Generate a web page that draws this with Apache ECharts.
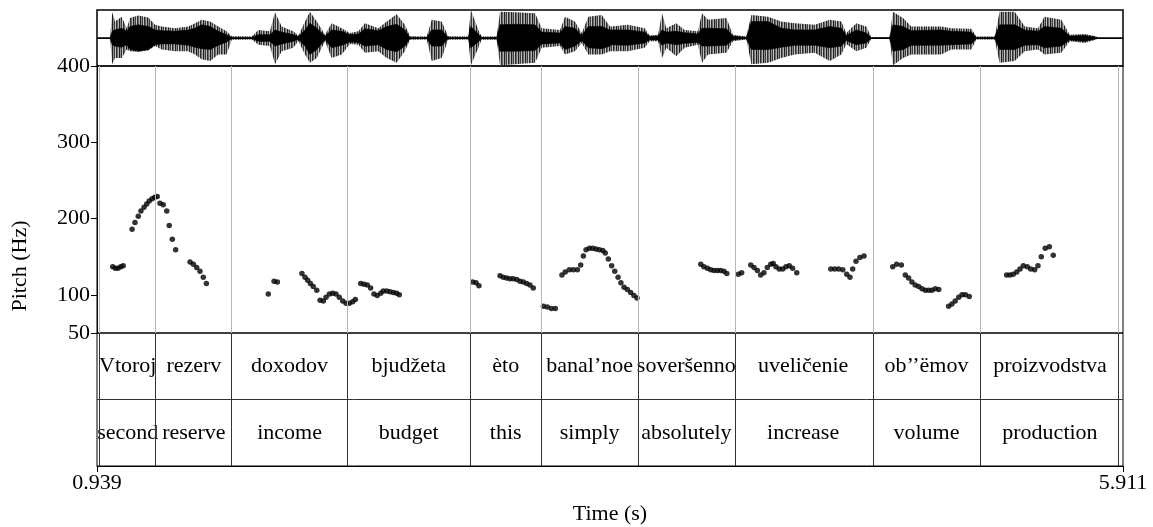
<!DOCTYPE html>
<html>
<head>
<meta charset="utf-8">
<script src="https://cdn.jsdelivr.net/npm/echarts@6/dist/echarts.min.js"></script>
<style>
  html, body { margin: 0; padding: 0; background: #fff; }
  #chart { width: 1153px; height: 527px; }
</style>
</head>
<body>
<div id="chart"></div>
<script>
// time range of the picture (s)
const tMin = 0.939;
const tMax = 5.911;
const timeTicks = [0.939, 5.911];
const pitchTicks = [50, 100, 200, 300, 400];

// waveform envelope (fraction of full scale)
const waveTime = [0.939,1.002,1.013,1.026,1.059,1.083,1.099,1.139,1.188,1.220,
  1.253,1.317,1.381,1.414,1.446,1.487,1.527,1.567,1.592,1.689,
  1.721,1.777,1.802,1.834,1.890,1.915,1.947,1.971,2.004,2.044,
  2.076,2.125,2.165,2.205,2.238,2.302,2.343,2.391,2.431,2.456,
  2.537,2.561,2.609,2.641,2.738,2.751,2.787,2.803,2.876,2.892,
  2.965,3.062,3.094,3.183,3.207,3.255,3.288,3.320,3.385,3.425,
  3.431,3.512,3.593,3.617,3.658,3.677,3.698,3.746,3.787,3.851,
  3.871,3.900,3.989,4.021,4.086,4.110,4.191,4.255,4.320,4.417,
  4.490,4.546,4.570,4.619,4.667,4.691,4.780,4.796,4.845,4.885,
  5.030,5.079,5.176,5.200,5.289,5.313,5.386,5.435,5.499,5.531,
  5.612,5.653,5.725,5.774,5.790,5.903,5.911];
const wavePeakUp = [0.02,0.02,0.92,0.59,0.76,0.35,0.71,0.80,0.73,0.47,
  0.41,0.35,0.41,0.53,0.65,0.59,0.41,0.24,0.06,0.05,
  0.29,0.24,0.92,0.41,0.24,0.09,0.59,0.94,0.59,0.12,
  0.53,0.35,0.18,0.24,0.53,0.35,0.59,0.85,0.47,0.06,
  0.05,0.65,0.59,0.06,0.05,1.00,0.29,0.05,0.05,0.94,
  0.92,0.88,0.35,0.29,0.76,0.59,0.18,0.76,0.82,0.41,
  0.41,0.47,0.35,0.09,0.12,0.88,0.35,0.53,0.29,0.24,
  0.88,0.65,0.71,0.12,0.05,0.82,0.76,0.59,0.53,0.47,
  0.65,0.59,0.18,0.53,0.41,0.04,0.04,0.94,0.71,0.41,
  0.41,0.35,0.33,0.05,0.05,0.94,0.94,0.41,0.35,0.76,
  0.65,0.12,0.14,0.07,0.02,0.02,0.02];
const wavePeakDown = [-0.02,-0.02,-0.94,-0.71,-0.71,-0.41,-0.47,-0.49,-0.45,-0.29,
  -0.41,-0.47,-0.47,-0.59,-0.76,-0.82,-0.59,-0.59,-0.06,-0.05,
  -0.24,-0.29,-0.94,-0.47,-0.35,-0.12,-0.59,-0.88,-0.71,-0.12,
  -0.71,-0.59,-0.21,-0.24,-0.53,-0.47,-0.71,-0.88,-0.47,-0.06,
  -0.05,-0.82,-0.71,-0.06,-0.05,-0.97,-0.35,-0.06,-0.06,-0.97,
  -0.94,-0.88,-0.35,-0.29,-0.59,-0.47,-0.18,-0.59,-0.59,-0.47,
  -0.47,-0.47,-0.35,-0.12,-0.12,-0.71,-0.35,-0.65,-0.35,-0.24,
  -0.88,-0.59,-0.53,-0.12,-0.05,-0.94,-0.88,-0.71,-0.59,-0.53,
  -0.82,-0.59,-0.21,-0.47,-0.35,-0.04,-0.04,-0.97,-0.71,-0.59,
  -0.59,-0.41,-0.41,-0.05,-0.05,-0.88,-0.82,-0.47,-0.41,-0.59,
  -0.53,-0.12,-0.18,-0.07,-0.02,-0.02,-0.02];
const waveCoreUp = [0.01,0.01,0.24,0.29,0.35,0.24,0.41,0.47,0.41,0.29,
  0.26,0.24,0.29,0.35,0.47,0.41,0.24,0.12,0.02,0.02,
  0.12,0.12,0.29,0.21,0.12,0.05,0.29,0.53,0.35,0.06,
  0.29,0.24,0.12,0.14,0.33,0.26,0.41,0.49,0.29,0.02,
  0.02,0.29,0.29,0.02,0.02,0.41,0.14,0.02,0.02,0.47,
  0.49,0.47,0.21,0.18,0.41,0.35,0.09,0.41,0.41,0.29,
  0.29,0.29,0.21,0.06,0.07,0.29,0.21,0.24,0.19,0.14,
  0.35,0.35,0.33,0.06,0.02,0.59,0.59,0.35,0.29,0.29,
  0.41,0.35,0.09,0.29,0.18,0.01,0.01,0.47,0.41,0.26,
  0.29,0.24,0.21,0.02,0.02,0.47,0.47,0.29,0.24,0.41,
  0.35,0.07,0.09,0.04,0.01,0.01,0.01];
const waveCoreDown = [-0.01,-0.01,-0.24,-0.29,-0.33,-0.24,-0.41,-0.47,-0.41,-0.24,
  -0.21,-0.21,-0.26,-0.33,-0.38,-0.41,-0.26,-0.14,-0.02,-0.02,
  -0.12,-0.12,-0.29,-0.21,-0.12,-0.05,-0.29,-0.59,-0.41,-0.06,
  -0.35,-0.26,-0.14,-0.16,-0.29,-0.24,-0.41,-0.49,-0.29,-0.02,
  -0.02,-0.29,-0.29,-0.02,-0.02,-0.35,-0.14,-0.02,-0.02,-0.47,
  -0.47,-0.45,-0.21,-0.18,-0.41,-0.29,-0.09,-0.35,-0.38,-0.29,
  -0.24,-0.26,-0.18,-0.06,-0.07,-0.26,-0.18,-0.24,-0.19,-0.16,
  -0.29,-0.29,-0.26,-0.06,-0.02,-0.41,-0.41,-0.33,-0.26,-0.26,
  -0.35,-0.29,-0.09,-0.24,-0.18,-0.01,-0.01,-0.47,-0.41,-0.26,
  -0.26,-0.24,-0.21,-0.02,-0.02,-0.41,-0.41,-0.26,-0.24,-0.35,
  -0.29,-0.07,-0.12,-0.04,-0.01,-0.01,-0.01];

// pitch track (s, Hz)
const pitchTime = [1.015,1.028,1.041,1.054,1.066,
  1.109,1.123,1.139,1.152,1.167,1.180,1.192,1.206,1.219,1.231,1.244,1.260,1.277,1.289,1.304,1.320,
  1.390,1.406,1.422,1.438,1.454,1.469,
  1.769,1.797,1.813,
  1.932,1.947,1.960,1.973,1.987,2.004,2.020,2.036,2.049,2.065,2.081,2.097,2.113,2.130,2.146,2.162,2.178,2.191,
  2.217,2.233,2.249,2.265,2.281,2.297,2.314,2.326,2.343,2.359,2.375,2.391,2.404,
  2.760,2.776,2.790,
  2.892,2.908,2.924,2.940,2.956,2.973,2.989,3.005,3.021,3.037,3.053,
  3.102,3.121,3.141,3.160,
  3.192,3.208,3.228,3.247,3.267,3.283,3.296,3.309,3.325,3.341,3.357,3.373,3.390,3.402,3.417,3.433,3.448,3.464,3.478,3.493,3.509,3.525,3.541,3.556,
  3.865,3.880,3.897,3.913,3.929,3.945,3.961,3.977,3.991,
  4.047,4.063,
  4.107,4.123,4.139,4.155,4.171,4.187,4.204,4.216,4.229,4.245,4.262,4.278,4.294,4.310,4.330,
  4.495,4.514,4.533,4.553,4.572,4.588,4.601,4.617,4.636,4.656,
  4.795,4.814,4.837,4.856,4.872,4.888,4.904,4.921,4.937,4.953,4.969,4.985,5.001,5.018,
  5.066,5.082,5.098,5.115,5.131,5.147,5.166,
  5.347,5.363,5.379,5.396,5.412,5.428,5.447,5.464,5.483,5.499,5.515,5.534,5.554,5.573];
const pitchHz = [137,135,135,137,138,
  186,195,203,210,215,219,223,226,228,229,220,218,210,191,173,159,
  143,140,136,131,123,115,
  101,118,117,
  128,123,119,115,111,106,93,92,97,101,102,101,97,92,89,89,91,94,
  115,114,113,109,101,99,102,105,105,104,103,102,100,
  117,116,112,
  125,123,122,121,121,120,118,117,115,113,109,
  85,84,82,82,
  126,130,133,133,133,139,151,159,161,161,160,159,158,155,147,138,131,123,116,110,107,103,99,96,
  140,137,135,133,132,132,132,131,128,
  127,129,
  139,136,132,126,129,136,140,141,137,134,134,137,138,135,129,
  134,134,134,133,127,123,134,144,149,151,
  137,140,139,126,122,117,113,111,108,106,106,106,108,107,
  85,88,92,97,100,100,98,
  126,126,127,130,134,138,137,134,133,138,150,161,163,152];

// interval tiers
const tierBounds = [0.954, 1.222, 1.595, 2.149, 2.750, 3.089, 3.564, 4.026, 4.696, 5.221, 5.893];
const wordsRu = ['Vtoroj', 'rezerv', 'doxodov', 'bjudžeta', 'èto', 'banal\u2019noe', 'soveršenno', 'uveličenie', 'ob\u2019\u2019ëmov', 'proizvodstva'];
const wordsEn = ['second', 'reserve', 'income', 'budget', 'this', 'simply', 'absolutely', 'increase', 'volume', 'production'];

const FONT = '"Liberation Serif", "Times New Roman", serif';
const FS = 22;

const chart = echarts.init(document.getElementById('chart'));

// irregular striped texture to mimic the single periods of the waveform
const stripe = document.createElement('canvas');
stripe.width = 7; stripe.height = 1;
const sctx = stripe.getContext('2d');
['#1e1e1e', '#8c8c8c', '#3a3a3a', '#c4c4c4', '#2c2c2c', '#6a6a6a', '#b0b0b0'].forEach((c, i) => {
  sctx.fillStyle = c; sctx.fillRect(i, 0, 1, 1);
});

function envelopePoints(api, up, down) {
  const pts = [];
  for (let i = 0; i < waveTime.length; i++) pts.push(api.coord([waveTime[i], up[i]]));
  for (let i = waveTime.length - 1; i >= 0; i--) pts.push(api.coord([waveTime[i], down[i]]));
  return pts;
}

const gridBox = { left: 97, width: 1026, show: true, borderColor: '#000', borderWidth: 1, backgroundColor: 'transparent' };
const hiddenX = (idx) => ({ type: 'value', gridIndex: idx, min: tMin, max: tMax, show: false });

const tierData = [];
wordsRu.forEach((w, i) => tierData.push([tierBounds[i], tierBounds[i + 1], 1.5, i, 0]));
wordsEn.forEach((w, i) => tierData.push([tierBounds[i], tierBounds[i + 1], 0.5, i, 1]));

const option = {
  animation: false,
  backgroundColor: '#fff',
  grid: [
    { ...gridBox, top: 10, height: 56, borderWidth: 1.5 },
    { ...gridBox, top: 66, height: 267 },
    { ...gridBox, top: 333, height: 133 },
    { left: 97, width: 1026, top: 66, height: 400, show: false }
  ],
  xAxis: [
    hiddenX(0),
    hiddenX(1),
    {
      type: 'value', gridIndex: 2, min: tMin, max: tMax,
      name: 'Time (s)', nameLocation: 'middle', nameGap: 37,
      nameTextStyle: { fontFamily: FONT, fontSize: FS, color: '#000' },
      axisLine: { show: true, lineStyle: { color: '#000', width: 1 } },
      axisTick: { show: true, length: 6, customValues: timeTicks, lineStyle: { color: '#000' } },
      axisLabel: {
        show: true, customValues: timeTicks, margin: 6,
        fontFamily: FONT, fontSize: FS, color: '#000',
        formatter: (v) => Number(v).toFixed(3)
      },
      splitLine: { show: false }
    },
    hiddenX(3)
  ],
  yAxis: [
    { type: 'value', gridIndex: 0, min: -1, max: 1, show: false },
    {
      type: 'value', gridIndex: 1, min: 50, max: 400,
      axisLine: { show: true, lineStyle: { color: '#000', width: 1 } },
      axisTick: { show: true, length: 6, customValues: pitchTicks, lineStyle: { color: '#000' } },
      axisLabel: { show: true, customValues: pitchTicks, margin: 7, fontFamily: FONT, fontSize: FS, color: '#000' },
      splitLine: { show: false }
    },
    { type: 'value', gridIndex: 2, min: 0, max: 2, show: false },
    {
      type: 'value', gridIndex: 3, min: 0, max: 1,
      name: 'Pitch (Hz)', nameLocation: 'middle', nameGap: 66,
      nameTextStyle: { fontFamily: FONT, fontSize: FS, color: '#000' },
      axisLine: { show: false }, axisTick: { show: false }, axisLabel: { show: false }, splitLine: { show: false }
    }
  ],
  series: [
    {
      // waveform
      type: 'custom', xAxisIndex: 0, yAxisIndex: 0, silent: true,
      data: waveTime.map((t, i) => [t, wavePeakUp[i], wavePeakDown[i]]),
      renderItem: (params, api) => {
        if (params.dataIndex !== 0) return null;
        return {
          type: 'group',
          children: [
            { type: 'polygon', shape: { points: envelopePoints(api, wavePeakUp, wavePeakDown) },
              style: { fill: { image: stripe, repeat: 'repeat' }, stroke: null } },
            { type: 'polygon', shape: { points: envelopePoints(api, waveCoreUp, waveCoreDown) },
              style: { fill: '#000', stroke: '#000', lineWidth: 0.6 } }
          ]
        };
      },
      markLine: {
        silent: true, symbol: 'none', label: { show: false },
        lineStyle: { color: '#000', width: 1, type: 'solid' },
        data: [{ yAxis: 0 }]
      }
    },
    {
      // pitch points
      type: 'scatter', xAxisIndex: 1, yAxisIndex: 1, silent: true,
      symbol: 'circle', symbolSize: 5.5,
      itemStyle: { color: '#000' },
      data: pitchTime.map((t, i) => [t, pitchHz[i]]),
      markLine: {
        silent: true, symbol: 'none', label: { show: false },
        lineStyle: { color: '#b8b8b8', width: 1, type: 'solid' },
        data: tierBounds.map((t) => ({ xAxis: t }))
      },
      z: 3
    },
    {
      // tier labels + boundaries
      type: 'custom', xAxisIndex: 2, yAxisIndex: 2, silent: true,
      data: tierData,
      renderItem: (params, api) => {
        const c = api.coord([(api.value(0) + api.value(1)) / 2, api.value(2)]);
        const words = api.value(4) === 0 ? wordsRu : wordsEn;
        return {
          type: 'text', x: c[0], y: c[1],
          style: { text: words[api.value(3)], fontFamily: FONT, fontSize: FS, fill: '#000', align: 'center', verticalAlign: 'middle' }
        };
      },
      markLine: {
        silent: true, symbol: 'none', label: { show: false },
        lineStyle: { color: '#333', width: 1, type: 'solid' },
        data: tierBounds.map((t) => ({ xAxis: t })).concat([{ yAxis: 1 }])
      }
    }
  ]
};

chart.setOption(option);
</script>
</body>
</html>
